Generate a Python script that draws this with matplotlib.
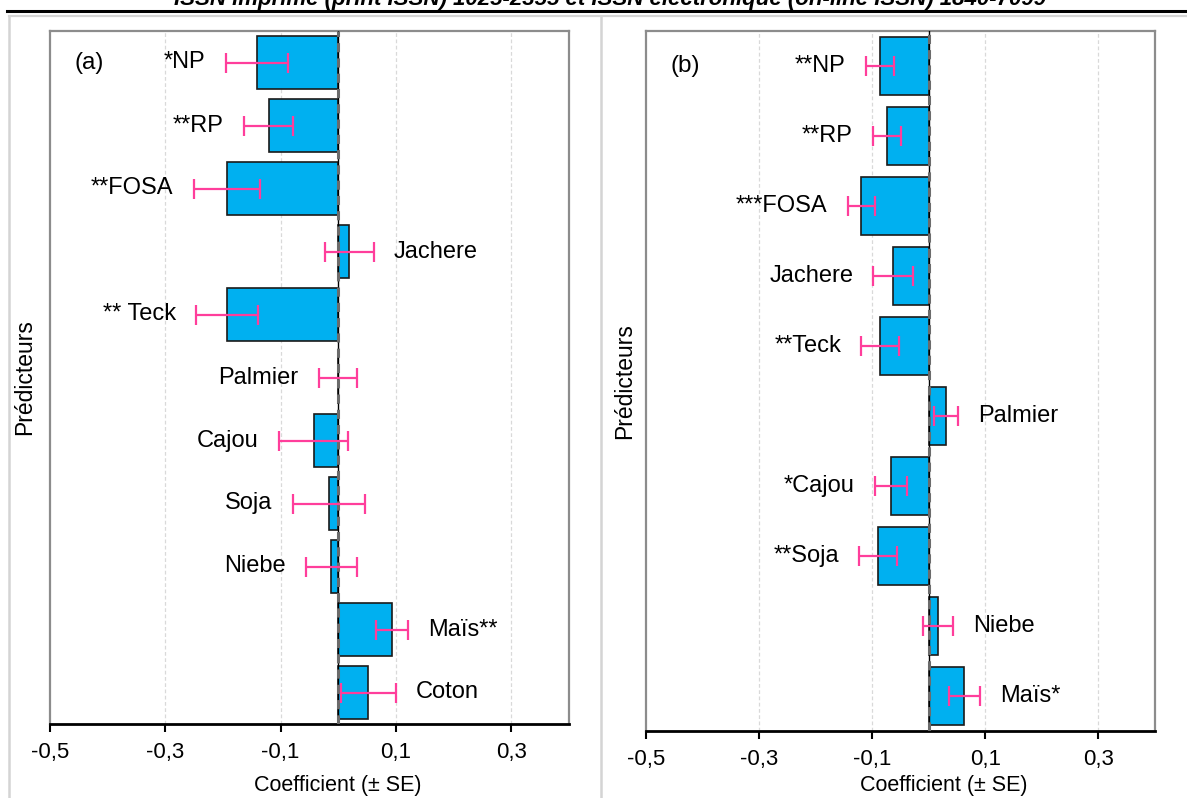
import numpy as np
import matplotlib.pyplot as plt
from matplotlib.lines import Line2D

plt.rcParams['font.family'] = ['Liberation Sans', 'DejaVu Sans']

# ---------------- data ----------------
labels_a = ["*NP", "**RP", "**FOSA", "Jachere", "** Teck", "Palmier",
            "Cajou", "Soja", "Niebe", "Maïs**", "Coton"]
coef_a = [-0.141, -0.121, -0.193, 0.019, -0.193, -0.001,
          -0.043, -0.016, -0.012, 0.093, 0.052]
se_a = [0.054, 0.043, 0.058, 0.042, 0.053, 0.033,
        0.060, 0.063, 0.044, 0.028, 0.048]

labels_b = ["**NP", "**RP", "***FOSA", "Jachere", "**Teck", "Palmier",
            "*Cajou", "**Soja", "Niebe", "Maïs*"]
coef_b = [-0.086, -0.074, -0.119, -0.063, -0.086, 0.030,
          -0.067, -0.090, 0.016, 0.063]
se_b = [0.025, 0.025, 0.024, 0.035, 0.033, 0.021,
        0.028, 0.033, 0.026, 0.028]

xticks = [-0.5, -0.3, -0.1, 0.1, 0.3]
xticklabels = ["-0,5", "-0,3", "-0,1", "0,1", "0,3"]

BAR = "#00B0F0"
ERR = "#FF3E9B"
SPINE = "#8C8C8C"
W, H = 1187, 798


def panel(ax, labels, coef, se, tag, ylab_x, xlab_xy):
    y = np.arange(len(labels))
    ax.barh(y, coef, height=0.83, color=BAR, edgecolor="#1a1a1a", linewidth=1.2, zorder=3)
    ax.errorbar(coef, y, xerr=se, fmt="none", ecolor=ERR, elinewidth=1.6,
                capsize=7, capthick=1.6, zorder=5)
    ax.axvline(0, color="black", lw=1.0, zorder=4)
    ax.axvline(0, color="#6b6b6b", lw=2.2, ls=(0, (3, 2)), zorder=4)
    for yi, lab, c, s in zip(y, labels, coef, se):
        if c < 0:
            ax.annotate(lab, (c - s, yi), xytext=(-14.5, 0), textcoords="offset points",
                        ha="right", va="center", fontsize=17)
        else:
            ax.annotate(lab, (c + s, yi), xytext=(14.5, 0), textcoords="offset points",
                        ha="left", va="center", fontsize=17)
    ax.set_xlim(-0.5, 0.4)
    ax.set_ylim(len(labels) - 0.5, -0.5)
    ax.set_xticks(xticks)
    ax.set_xticklabels(xticklabels, fontsize=16)
    ax.set_yticks([])
    ax.tick_params(axis="x", direction="out", length=6, width=1.5, color="black", pad=7)
    for xv in xticks[1:]:
        ax.axvline(xv, color="#d9d9d9", lw=0.9, ls=(0, (3, 2)), zorder=1)
    for side in ["left", "top", "right"]:
        ax.spines[side].set_color(SPINE)
        ax.spines[side].set_linewidth(1.6)
    ax.spines["bottom"].set_color("black")
    ax.spines["bottom"].set_linewidth(2.0)
    ax.set_xlabel("Coefficient (± SE)", fontsize=15.5)
    ax.xaxis.set_label_coords(*xlab_xy)
    ax.set_ylabel("Prédicteurs", fontsize=16.5)
    ax.yaxis.set_label_coords(ylab_x, 0.5)
    ax.text(0.048, 0, tag, transform=ax.get_yaxis_transform(), fontsize=17.5,
            ha="left", va="center")


fig = plt.figure(figsize=(W / 100, H / 100), dpi=100)
ax_a = fig.add_axes([50 / W, (H - 724) / H, 519 / W, 693 / H])
ax_b = fig.add_axes([646 / W, (H - 731) / H, 509 / W, 700 / H])

panel(ax_a, labels_a, coef_a, se_a, "(a)", -0.027, (0.554, -0.074))
panel(ax_b, labels_b, coef_b, se_b, "(b)", -0.020, (0.585, -0.063))

# page decorations
fig.add_artist(Line2D([7 / W, 1], [1 - 11 / H] * 2, color="black", lw=2.2,
                      transform=fig.transFigure))
fig.add_artist(Line2D([9 / W, 1], [1 - 15.5 / H] * 2, color="#d4d4d4", lw=1.6,
                      transform=fig.transFigure))
for xp in [9, 601]:
    fig.add_artist(Line2D([xp / W] * 2, [0, 1 - 15.5 / H], color="#d4d4d4", lw=1.8,
                          transform=fig.transFigure))
fig.text(610 / W, 1 - 5 / H,
         "ISSN imprimé (print ISSN) 1025-2355 et ISSN électronique (on-line ISSN) 1840-7099",
         ha="center", va="baseline", fontsize=16, fontweight="bold", fontstyle="italic")

fig.savefig("out.png", dpi=100)
